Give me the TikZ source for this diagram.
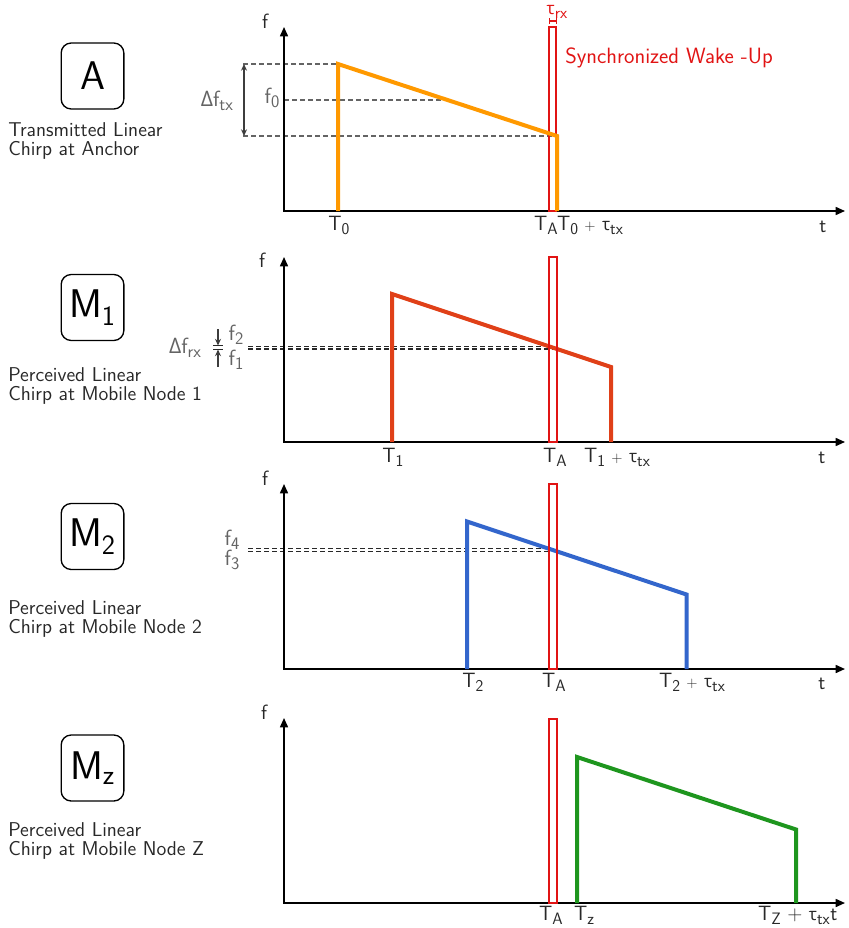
\documentclass[tikz,border=0pt]{standalone}
\usepackage{fontspec}
\renewcommand{\familydefault}{\sfdefault}
\newfontfamily\grk{Open Sans}[Scale=MatchLowercase]
\newfontfamily\grkU{Open Sans}[Scale=MatchUppercase]
\usepackage{xcolor}
\definecolor{wuorange}{RGB}{255,153,0}
\definecolor{wuvermil}{RGB}{224,64,24}
\definecolor{wublue}{RGB}{51,102,204}
\definecolor{wugreen}{RGB}{30,150,30}
\definecolor{wured}{RGB}{225,20,20}
\definecolor{wugray}{RGB}{100,100,100}
\definecolor{wuink}{RGB}{40,40,40}
\usepackage{tikz}
\usetikzlibrary{arrows.meta,positioning}
\newcommand{\subtxt}[1]{\raisebox{-0.45ex}{\scalebox{0.8}{#1}}}
\newcommand{\plus}{{\fontsize{11}{11}\selectfont+}}
\tikzset{
  axis/.style={draw=black,line width=1.2pt,{Triangle[length=7pt,width=6pt]}-{Triangle[length=7pt,width=6pt]}},
  chirp/.style={line width=3pt},
  wake/.style={draw=wured,line width=1.3pt},
  guide/.style={draw=wugray,line width=0.9pt,dash pattern=on 3.75pt off 2.25pt},
  span/.style={draw=wuink!90,line width=0.8pt,-{Stealth[length=5pt,width=4.5pt]}},
  tag/.style={draw=black,rounded corners=7.5pt,line width=1pt,minimum width=47pt,minimum height=49.5pt,inner sep=0pt,font=\fontsize{30}{30}\selectfont},
  caption/.style={align=left,anchor=base west,inner sep=0pt,text=wuink,font=\fontsize{15}{14.25}\selectfont},
  tick/.style={anchor=base,inner sep=0pt,text=wuink,font=\fontsize{15.5}{15.5}\selectfont},
  note/.style={tick,text=wugray,font=\fontsize{16.5}{16.5}\selectfont},
}
\begin{document}
\begin{tikzpicture}[x=0.75pt,y=-0.75pt]
\useasboundingbox (0,0) rectangle (849,928);

% Anchor A: transmitted chirp
\node[tag] (boxA) at (92.5,76) {A};
\node[caption] (capA) at (8,155) {Transmitted Linear\\Chirp at Anchor};
\coordinate (a-s) at (338,211);
\coordinate (a-hi) at (338,64);
\coordinate (a-lo) at (557,136);
\coordinate (a-e) at (557,211);
\draw[guide] (243,64) -- (a-hi);
\draw[guide] (284,100) -- (447,100);
\draw[guide] (243,136) -- (a-lo);
\draw[span,{Stealth[length=5pt,width=4.5pt]}-{Stealth[length=5pt,width=4.5pt]}] (244,64) -- (244,136);
\draw[axis] (284,27) |- (845,211);
\draw[wake] (549,211) rectangle (556,27);
\draw[chirp,wuorange] (a-s) -- (a-hi) -- (a-lo) -- (a-e);
\draw[wured,line width=0.8pt,{Bar[width=4pt]}-{Bar[width=4pt]}] (549,21) -- (557,21);
\node[tick] (a-f) at (265,28) {f};
\node[tick] (a-t) at (823,232) {t};
\node[tick] (a-T0) at (339,230) {T\subtxt{0}};
\node[tick] (a-TA) at (546,230) {T\subtxt{A}};
\node[tick] (a-Tend) at (590,230) {T\subtxt{0} \plus{} {\grk τ}\subtxt{tx}};
\node[note] (a-df) at (217,106) {{\grkU Δ}f\subtxt{tx}};
\node[note] (a-f0) at (272,103) {f\subtxt{0}};
\node[tick,text=wured] (a-rx) at (557,14) {{\grk τ}\subtxt{rx}};
\node[tick,text=wured,anchor=base west,font=\fontsize{16.6}{16.6}\selectfont] (a-wake) at (565,63) {Synchronized Wake -Up};

% Mobile node 1
\node[tag] (boxM1) at (92.5,307.5) {M\textsubscript{1}};
\node[caption] (capM1) at (8,400) {Perceived Linear\\Chirp at Mobile Node 1};
\coordinate (m1-s) at (392,442);
\coordinate (m1-hi) at (392,294);
\coordinate (m1-lo) at (611,367);
\coordinate (m1-e) at (611,442);
\draw[guide,wuink] (248,346.3) -- (549,346.3);
\draw[guide,wuink] (248,349) -- (557,349);
\draw[span] (218,329) -- (218,345.5);
\draw[span] (218,367) -- (218,349.5);
\draw[wuink,line width=0.8pt] (213,345.5) -- (223,345.5) (213,349.5) -- (223,349.5);
\draw[axis] (284,257) |- (845,442);
\draw[chirp,wuvermil] (m1-s) -- (m1-hi) -- (m1-lo) -- (m1-e);
\draw[wake] (549,442) rectangle (557,257);
\node[tick] (m1-f) at (262,267) {f};
\node[tick] (m1-t) at (822,463) {t};
\node[tick] (m1-T1) at (393,462) {T\subtxt{1}};
\node[tick] (m1-TA) at (555,462) {T\subtxt{A}};
\node[tick] (m1-Tend) at (617,462) {T\subtxt{1} \plus{} {\grk τ}\subtxt{tx}};
\node[note] (m1-df) at (185,353) {{\grkU Δ}f\subtxt{rx}};
\node[note] (m1-f2) at (236,340) {f\subtxt{2}};
\node[note] (m1-f1) at (236,365) {f\subtxt{1}};

% Mobile node 2
\node[tag] (boxM2) at (92.5,536.5) {M\textsubscript{2}};
\node[caption] (capM2) at (8,633) {Perceived Linear\\Chirp at Mobile Node 2};
\coordinate (m2-s) at (467,669);
\coordinate (m2-hi) at (467,521.5);
\coordinate (m2-lo) at (686.5,594.5);
\coordinate (m2-e) at (686.5,669);
\draw[guide,wuink] (248,548.8) -- (549,548.8);
\draw[guide,wuink] (248,551.5) -- (557,551.5);
\draw[axis] (284,484) |- (845,669);
\draw[chirp,wublue] (m2-s) -- (m2-hi) -- (m2-lo) -- (m2-e);
\draw[wake] (549,669) rectangle (557,484);
\node[tick] (m2-f) at (265,485) {f};
\node[tick] (m2-t) at (822,689) {t};
\node[tick] (m2-T2) at (473,687) {T\subtxt{2}};
\node[tick] (m2-TA) at (554,687) {T\subtxt{A}};
\node[tick] (m2-Tend) at (692,687) {T\subtxt{2} \plus{} {\grk τ}\subtxt{tx}};
\node[note] (m2-f4) at (232,545) {f\subtxt{4}};
\node[note] (m2-f3) at (232,565) {f\subtxt{3}};

% Mobile node Z
\node[tag] (boxMz) at (92.5,768) {M\textsubscript{z}};
\node[caption] (capMz) at (8,855) {Perceived Linear\\Chirp at Mobile Node Z};
\coordinate (mz-s) at (577,903);
\coordinate (mz-hi) at (577,757);
\coordinate (mz-lo) at (796,829.5);
\coordinate (mz-e) at (796,903);
\draw[axis] (284,718) |- (845,903);
\draw[chirp,wugreen] (mz-s) -- (mz-hi) -- (mz-lo) -- (mz-e);
\draw[wake] (549,903) rectangle (557,719);
\node[tick] (mz-f) at (264,719) {f};
\node[tick] (mz-TA) at (551,920) {T\subtxt{A}};
\node[tick] (mz-Tz) at (584,920) {T\subtxt{z}};
\node[tick] (mz-Tend) at (794,920) {T\subtxt{Z} + {\grk τ}\subtxt{tx}};
\node[tick,right=0pt of mz-Tend.base east,anchor=base west] (mz-t) {t};
\end{tikzpicture}
\end{document}
